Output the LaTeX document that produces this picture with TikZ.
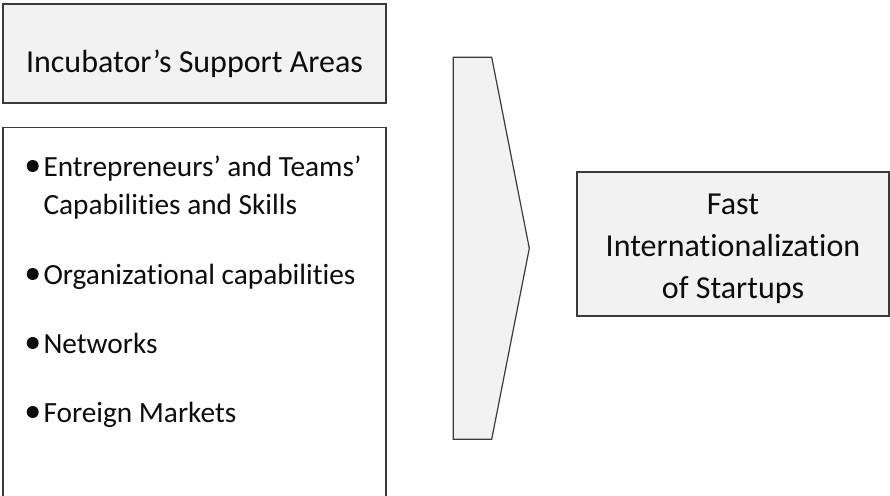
\documentclass[tikz,border=0pt]{standalone}
\usepackage{fontspec}
\setmainfont{Carlito}[Ligatures=NoCommon]
\begin{document}
\begin{tikzpicture}[x=1pt,y=-1pt,
  every node/.style={font=\fontsize{32}{42}\selectfont, text=inkblack},
  panel/.style={draw=edgegray, line width=1.2pt, fill=panelgray, inner sep=0pt},
  item/.style={anchor=base west, inner sep=0pt, font=\fontsize{29.3}{38}\selectfont},
  dot/.style={fill=inkblack, draw=none}]
\definecolor{panelgray}{HTML}{F2F2F2}
\definecolor{edgegray}{HTML}{3A3A3A}
\definecolor{inkblack}{HTML}{0D0D0D}
\useasboundingbox (0,0) rectangle (890,495);
\clip (0,0) rectangle (890,495);

% heading box
\node[panel, minimum width=383pt, minimum height=99pt,
      text height=37pt, text depth=0pt] (areas) at (194.5,53.5)
      {Incubator’s Support Areas};

% list box (runs past the lower edge)
\node[panel, fill=white, minimum width=383pt, minimum height=400pt,
      anchor=north] (list) at (194.5,127) {};

% bullet items
\node[item] (i1a) at (43.3,176) {Entrepreneurs’ and Teams’};
\node[item] (i1b) at (43.3,214) {Capabilities and Skills};
\node[item] (i2)  at (43.3,284) {Organizational capabilities};
\node[item] (i3)  at (43.3,353) {Networks};
\node[item] (i4)  at (43.3,422) {Foreign Markets};
\foreach \n in {i1a,i2,i3,i4}
  \fill[dot] ([xshift=-10.6pt,yshift=10pt]\n.base west) circle (6pt);

% chevron arrow
\draw[panel] (453.3,57.3) -- (491.7,57.3) -- (529.3,248.3)
  -- (491.7,439.3) -- (453.3,439.3) -- cycle;

% outcome box and its caption
\node[panel, minimum width=312pt, minimum height=144pt] (fast) at (733,244) {};
\node[align=center, inner sep=0pt] (fasttext) at ([yshift=-5pt]fast.center)
  {Fast\\Internationalization\\of Startups};
\end{tikzpicture}
\end{document}
